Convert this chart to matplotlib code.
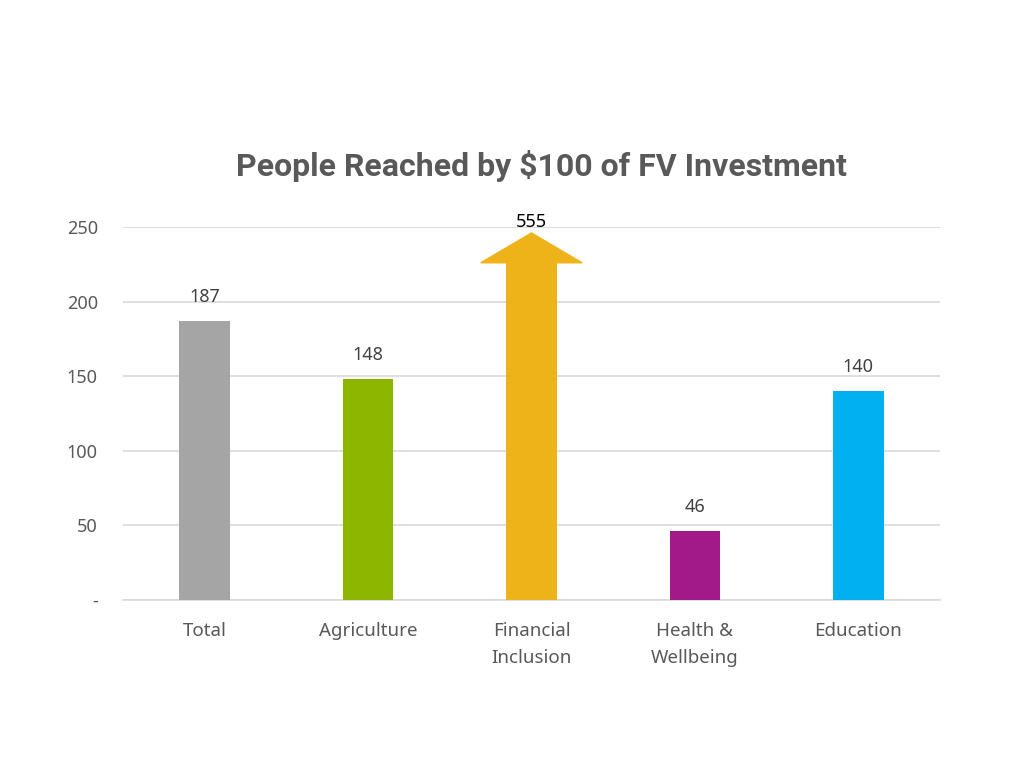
import matplotlib
matplotlib.use('Agg')
import matplotlib.pyplot as plt
from matplotlib.patches import Polygon

categories = ['Total', 'Agriculture', 'Financial\nInclusion', 'Health &\nWellbeing', 'Education']
values = [187, 148, 555, 46, 140]
colors = ['#A5A5A5', '#8DB600', '#EFB31A', '#A2198A', '#00B0F0']
y_ticks = [0, 50, 100, 150, 200, 250]
y_tick_labels = ['-', '50', '100', '150', '200', '250']

plt.rcParams['font.family'] = ['Noto Sans', 'DejaVu Sans']
text_gray = '#595959'

fig = plt.figure(figsize=(10.24, 7.76), dpi=100)
ax = fig.add_axes([0.120, 0.2268, 0.798, 0.4807])

ymax = 250
bar_w = 0.31
x = list(range(len(categories)))
shaft_top = 226   # where the arrow head starts on a clipped bar
head_top = 246

for xi, v, c in zip(x, values, colors):
    if v > ymax:
        # bar runs off the scale: draw it as an arrow
        ax.bar(xi, shaft_top, width=bar_w, color=c, zorder=3)
        head = Polygon([(xi - bar_w, shaft_top), (xi + bar_w, shaft_top), (xi, head_top)],
                       closed=True, color=c, zorder=3, clip_on=False)
        ax.add_patch(head)
        ax.text(xi, head_top + 1, str(v), ha='center', va='bottom', fontsize=13,
                color='black', zorder=4)
    else:
        ax.bar(xi, v, width=bar_w, color=c, zorder=3)
        ax.annotate(str(v), (xi, v), xytext=(0, 11), textcoords='offset points',
                    ha='center', va='bottom', fontsize=13, color='#404040')

ax.set_ylim(0, ymax)
ax.set_xlim(-0.5, len(categories) - 0.5)
ax.set_yticks(y_ticks)
ax.set_yticklabels(y_tick_labels)
ax.set_xticks(x)
ax.set_xticklabels(categories, linespacing=1.6)
ax.tick_params(axis='both', length=0, labelsize=13, colors=text_gray)
ax.tick_params(axis='x', labelsize=13.5, pad=16)
ax.tick_params(axis='y', pad=18)
ax.grid(axis='y', color='#D9D9D9', linewidth=1.2, zorder=0)
for s in ['top', 'right', 'left']:
    ax.spines[s].set_visible(False)
ax.spines['bottom'].set_color('#D9D9D9')
ax.spines['bottom'].set_linewidth(1.2)

fig.text(0.5285, 0.786, 'People Reached by $100 of FV Investment', ha='center', va='center',
         fontsize=23, fontweight='bold', color=text_gray, family=['Roboto', 'DejaVu Sans'])

fig.savefig('out.png', dpi=100)
